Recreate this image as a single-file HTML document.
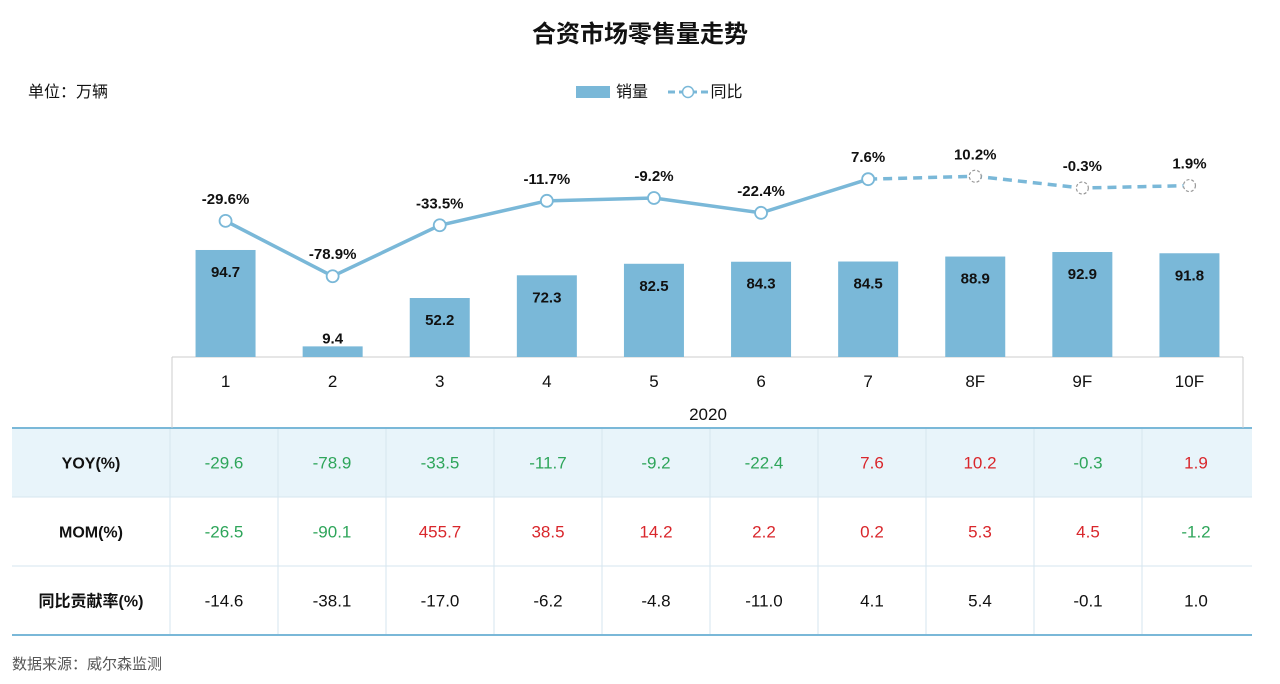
<!DOCTYPE html>
<html><head><meta charset="utf-8"><style>
body{margin:0;background:#fff;font-family:"Liberation Sans","Noto Sans CJK SC",sans-serif;}
#wrap{position:relative;width:1280px;height:684px;overflow:hidden;}
.t{position:absolute;white-space:nowrap;}
</style></head><body>
<div id="wrap">
<div class="t" style="left:0;width:1280px;text-align:center;top:14px;font-size:24px;font-weight:bold;color:#111;">合资市场零售量走势</div>
<div class="t" style="left:28px;top:78px;font-size:16px;color:#111;">单位：万辆</div>
<div style="position:absolute;left:576px;top:78px;font-size:16px;color:#111;">
 <span style="display:inline-block;"><span style="display:inline-block;width:34px;height:12px;background:#7ab8d8;vertical-align:-1px;margin-right:6px;"></span>销量</span>
 <span style="display:inline-block;margin-left:16px;position:relative;"><svg width="40" height="14" style="vertical-align:-2px;margin-right:2px;"><line x1="0" y1="7" x2="40" y2="7" stroke="#7ab8d8" stroke-width="3" stroke-dasharray="7,4"/><circle cx="20" cy="7" r="5.5" fill="#fff" stroke="#7ab8d8" stroke-width="1.5"/></svg>同比</span>
</div>
<svg id="chart" width="1280" height="684" style="position:absolute;left:0;top:0;"></svg>
<div class="t" style="left:12px;top:653px;font-size:15px;color:#555;">数据来源：威尔森监测</div>
</div>
<script>
const categories=["1","2","3","4","5","6","7","8F","9F","10F"];
const sales=[94.7,9.4,52.2,72.3,82.5,84.3,84.5,88.9,92.9,91.8];
const yoy=[-29.6,-78.9,-33.5,-11.7,-9.2,-22.4,7.6,10.2,-0.3,1.9];
const mom=[-26.5,-90.1,455.7,38.5,14.2,2.2,0.2,5.3,4.5,-1.2];
const contrib=[-14.6,-38.1,-17.0,-6.2,-4.8,-11.0,4.1,5.4,-0.1,1.0];
const forecastStart=7;
const NS="http://www.w3.org/2000/svg";
const svg=document.getElementById('chart');
const x0=172,colW=107.1,tx0=170,tColW=108;
function xc(i){return x0+colW*i+colW/2;}
function tc(i){return tx0+tColW*i+tColW/2;}
function yBar(v){return 357-v*1.13;}
function yLine(v){return 187.7-v*1.122;}
function mk(tag,attrs,parent){const e=document.createElementNS(NS,tag);for(const k in attrs)e.setAttribute(k,attrs[k]);(parent||svg).appendChild(e);return e;}
function txt(x,y,s,attrs){const e=mk('text',Object.assign({x:x,y:y,'text-anchor':'middle','font-family':'Liberation Sans, Noto Sans CJK SC, sans-serif'},attrs));e.textContent=s;return e;}
const bg=mk('rect',{x:12,y:428,width:1240,height:69,fill:'#e8f4fa'});


[497,566].forEach(y=>{mk('line',{x1:12,x2:1252,y1:y,y2:y,stroke:'#d6e6ef','stroke-width':1});});
for(let i=0;i<10;i++){const x=tx0+tColW*i;mk('line',{x1:x,x2:x,y1:428,y2:635,stroke:'#d6e6ef','stroke-width':1});}
[428,635].forEach(y=>{mk('line',{x1:12,x2:1252,y1:y,y2:y,stroke:'#7ab8d8','stroke-width':2});});
const xEnd=x0+colW*10;
mk('line',{x1:172,x2:xEnd,y1:357,y2:357,stroke:'#ccc','stroke-width':1});
mk('line',{x1:172,x2:172,y1:357,y2:428,stroke:'#ccc','stroke-width':1});
mk('line',{x1:xEnd,x2:xEnd,y1:357,y2:428,stroke:'#ccc','stroke-width':1});
const yr=txt(708,420,'2020',{'font-size':17,fill:'#111'});


categories.forEach((c,i)=>{
 const t=txt(xc(i),387,c,{'font-size':17,fill:'#111'});
 
 
});
sales.forEach((v,i)=>{
 const y=yBar(v);
 const r=mk('rect',{x:xc(i)-30,y:y,width:60,height:357-y,fill:'#7ab8d8'});
 
 
 const ly=(357-y)>30?y+27:y-3;
 const l=txt(xc(i),ly,v.toFixed(1),{'font-size':15,'font-weight':'bold',fill:'#111'});
 
 
});
const solid=yoy.slice(0,forecastStart).map((v,i)=>xc(i)+','+yLine(v)).join(' ');
const dash=yoy.slice(forecastStart-1).map((v,j)=>xc(j+forecastStart-1)+','+yLine(v)).join(' ');
const p1=mk('polyline',{points:solid,fill:'none',stroke:'#7ab8d8','stroke-width':3.5});


const p2=mk('polyline',{points:dash,fill:'none',stroke:'#7ab8d8','stroke-width':3.5,'stroke-dasharray':'9,6'});


yoy.forEach((v,i)=>{
 const f=i>=forecastStart;
 const c=mk('circle',{cx:xc(i),cy:yLine(v),r:6,fill:'#fff',stroke:f?'#999':'#7ab8d8','stroke-width':f?1.2:1.8,'stroke-dasharray':f?'3,2':'none'});
 
 
 const l=txt(xc(i),yLine(v)-17,v.toFixed(1)+'%',{'font-size':15,'font-weight':'bold',fill:'#111'});
 
 
});
const rows=[["YOY(%)",yoy,462.5,true,'row-header-yoy'],["MOM(%)",mom,531.5,true,'row-header-mom'],["同比贡献率(%)",contrib,600.5,false,'row-header-contribution']];
rows.forEach(([name,arr,y,col,nm])=>{
 const h=txt(91,y+6,name,{'font-size':16,'font-weight':'bold',fill:'#111'});
 
 
 arr.forEach((v,i)=>{
  const fill=col?(v<0?'#2ea55a':'#d9262b'):'#111';
  const t=txt(tc(i),y+6,v.toFixed(1),{'font-size':17,fill:fill});
  
  
 });
});
</script>
</body></html>
